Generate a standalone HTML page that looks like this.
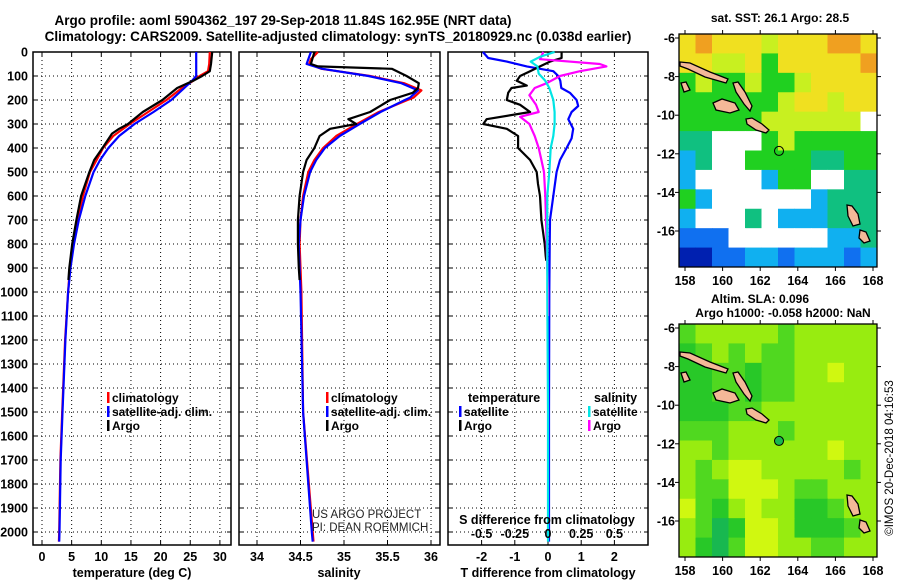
<!DOCTYPE html>
<html><head><meta charset="utf-8"><style>
html,body{margin:0;padding:0;background:#fff;width:900px;height:580px;overflow:hidden}
svg{display:block;font-family:"Liberation Sans",Arial,sans-serif;font-weight:bold}
</style></head><body>
<svg id="c" width="900" height="580" viewBox="0 0 900 580">
<text x="283" y="25" font-size="13.5" text-anchor="middle">Argo profile: aoml 5904362_197 29-Sep-2018 11.84S 162.95E (NRT data)</text>
<text x="338" y="41" font-size="13.5" text-anchor="middle">Climatology: CARS2009. Satellite-adjusted climatology: synTS_20180929.nc (0.038d earlier)</text>
</svg>
<script>
// ---------- data ----------
const tDepth   = [0,50,80,100,120,150,200,250,300,350,400,450,500,600,700,800,900,1000,1200,1500,1700,2000,2040];
const tClim    = [28.3,28.2,28.0,26.6,25.5,23.6,21.0,17.9,14.8,12.0,10.3,9.2,8.1,6.9,6.0,5.3,4.7,4.4,3.9,3.4,3.1,2.9,2.85];
const tSat     = [26.0,26.0,26.0,26.0,25.3,24.0,21.8,18.8,15.6,13.0,11.2,9.8,8.7,7.3,6.2,5.4,4.8,4.4,3.95,3.45,3.15,2.95,2.9];
const aDepth   = [0,50,80,100,120,150,200,250,300,320,340,400,450,500,600,700,800,900,950];
const tArgo    = [28.7,28.5,28.3,27.0,25.5,22.8,20.3,17.0,14.5,13.0,11.8,10.2,8.8,8.0,6.6,5.8,5.1,4.6,4.45];
const sDepth   = [0,30,50,70,100,130,160,190,200,250,300,350,400,450,500,600,700,800,900,1000,1500,2000,2040];
const sClim    = [34.70,34.62,34.60,34.74,35.30,35.69,35.89,35.80,35.73,35.40,35.15,34.91,34.76,34.66,34.59,34.53,34.50,34.49,34.50,34.51,34.53,34.64,34.65];
const sSat     = [34.62,34.59,34.57,34.75,35.28,35.66,35.85,35.76,35.70,35.42,35.18,34.95,34.78,34.68,34.61,34.54,34.50,34.48,34.49,34.50,34.53,34.63,34.64];
const saDepth  = [0,50,60,70,100,130,150,170,200,250,280,300,320,350,400,450,500,600,700,800,900,950];
const sArgo    = [34.66,34.62,34.70,35.55,35.72,35.86,35.85,35.79,35.53,35.30,35.05,35.14,34.84,34.72,34.66,34.57,34.53,34.49,34.47,34.47,34.48,34.49];
const dtDepth  = [0,25,40,60,80,100,120,150,170,200,225,250,280,320,360,400,450,500,600,700,800,1000,1500,2040];
const dtSat    = [-1.96,-1.8,-1.24,-0.64,0.16,0.31,0.37,0.40,0.66,0.86,0.91,0.71,0.61,0.76,0.71,0.56,0.36,0.26,0.16,0.06,0.05,0.04,0.03,0.03];
const daDepth  = [0,25,40,60,80,100,120,140,150,170,200,220,250,280,300,320,350,400,450,500,550,600,700,800,850,870];
const dtArgo   = [0.41,0.41,0.06,-0.24,-0.54,-0.84,-0.94,-0.64,-1.1,-1.2,-1.24,-0.84,-0.54,-1.85,-1.95,-1.24,-0.9,-0.9,-0.54,-0.34,-0.3,-0.24,-0.2,-0.1,-0.07,-0.05];
const dsDepth  = [0,20,40,60,90,120,150,200,250,300,350,400,500,600,1000,1500,2040];
const dsSat    = [0.05,-0.06,-0.13,-0.08,-0.07,-0.02,0.01,0.04,0.05,0.05,0.04,0.02,0.01,-0.005,-0.005,0,0];
const dsaDepth = [0,30,50,60,70,80,100,130,150,180,220,250,270,300,350,400,450,500,600,800,1000,1100];
const dsArgo   = [-0.035,-0.06,0.39,0.44,0.34,0.24,0.09,-0.01,-0.1,-0.14,-0.09,-0.07,-0.21,-0.14,-0.1,-0.07,-0.05,-0.03,-0.02,-0.01,0.0,0.0];
const depthTicks = [0,100,200,300,400,500,600,700,800,900,1000,1100,1200,1300,1400,1500,1600,1700,1800,1900,2000];
const tTicks = [0,5,10,15,20,25,30];
const sTicks = [34,34.5,35,35.5,36];
const sTickLabels = ['34','34.5','35','35.5','36'];
const dTTicks = [-2,-1,0,1,2];
const dSTicks = [-0.5,-0.25,0,0.25,0.5];
const dSTickLabels = ['-0.5','-0.25','0','0.25','0.5'];

const NS='http://www.w3.org/2000/svg';
const svg=document.getElementById('c');
function el(tag,attrs,parent){const e=document.createElementNS(NS,tag);for(const k in attrs)e.setAttribute(k,attrs[k]);(parent||svg).appendChild(e);return e;}
function txt(x,y,s,size,anchor,parent){const e=el('text',{x:x,y:y,'font-size':size,'text-anchor':anchor||'start'},parent);e.textContent=s;return e;}

const TOP=52,BOT=545;
const yD=d=>TOP+d*0.24;
const panels=[
 {name:'temperature-panel',x0:33,x1:231,fx:v=>42+v*5.93},
 {name:'salinity-panel',x0:239,x1:440,fx:v=>257+(v-34)*87},
 {name:'difference-panel',x0:448,x1:648,fx:v=>548+v*33.2}
];
const fS=v=>548+v*132.8;

panels.forEach((p,i)=>{
 const g=el('g',{});
 
 
 depthTicks.forEach(d=>{
  if(d===0)return;
  const l=el('line',{x1:p.x0,x2:p.x1,y1:yD(d),y2:yD(d),stroke:'#000','stroke-width':1,'stroke-dasharray':'1,3'},g);
  
  
  el('line',{x1:p.x0,x2:p.x0+4,y1:yD(d),y2:yD(d),stroke:'#000'},g);
  el('line',{x1:p.x1-4,x2:p.x1,y1:yD(d),y2:yD(d),stroke:'#000'},g);
 });
 const vt = i===0?tTicks:(i===1?sTicks:dTTicks);
 vt.forEach((v,k)=>{
  const x=p.fx(v);
  el('line',{x1:x,x2:x,y1:TOP,y2:BOT,stroke:'#000','stroke-width':1,'stroke-dasharray':'1,3'},g);
  el('line',{x1:x,x2:x,y1:BOT-4,y2:BOT,stroke:'#000'},g);
  el('line',{x1:x,x2:x,y1:TOP,y2:TOP+4,stroke:'#000'},g);
  const lab = i===1?sTickLabels[k]:String(v);
  const t=txt(x,561,lab,12.5,'middle',g);
  
  
 });
 const fr=el('rect',{x:p.x0,y:TOP,width:p.x1-p.x0,height:BOT-TOP,fill:'none',stroke:'#000','stroke-width':1.5},g);
 
 
});
depthTicks.forEach(d=>{
 const t=txt(28,yD(d)+4.5,String(d),12.5,'end');
 
 
});
const at1=txt(132,577,'temperature (deg C)',12.5,'middle');


const at2=txt(339,577,'salinity',12.5,'middle');


const at3=txt(548,577,'T difference from climatology',12.5,'middle');



function line(depths,vals,fx,color,name,w){
 const pts=depths.map((d,i)=>fx(vals[i]).toFixed(1)+','+yD(d).toFixed(1)).join(' ');
 const pl=el('polyline',{points:pts,fill:'none',stroke:color,'stroke-width':w||2.2,'stroke-linejoin':'round'});
 
 
}
const P=panels;
line(tDepth,tClim,P[0].fx,'#ff0000','temperature-climatology-line');
line(tDepth,tSat,P[0].fx,'#0000ff','temperature-satellite-line');
line(aDepth,tArgo,P[0].fx,'#000','temperature-argo-line');
line(sDepth,sClim,P[1].fx,'#ff0000','salinity-climatology-line');
line(sDepth,sSat,P[1].fx,'#0000ff','salinity-satellite-line');
line(saDepth,sArgo,P[1].fx,'#000','salinity-argo-line');
line(dtDepth,dtSat,P[2].fx,'#0000ff','t-diff-satellite-line');
line(daDepth,dtArgo,P[2].fx,'#000','t-diff-argo-line');
line(dsaDepth,dsArgo,fS,'#ff00ff','s-diff-argo-line');
line(dsDepth,dsSat,fS,'#00e5e5','s-diff-satellite-line');

function leg(x,y,color,label,name){
 const g=el('g',{});
 
 
 el('rect',{x:x,y:y-10,width:2.5,height:11,fill:color},g);
 txt(x+5,y,label,12,'start',g);
}
leg(107,402,'#ff0000','climatology','legend-climatology-t');
leg(107,416,'#0000ff','satellite-adj. clim.','legend-satellite-t');
leg(107,430,'#000','Argo','legend-argo-t');
leg(326,402,'#ff0000','climatology','legend-climatology-s');
leg(326,416,'#0000ff','satellite-adj. clim.','legend-satellite-s');
leg(326,430,'#000','Argo','legend-argo-s');
txt(468,402,'temperature',12.5,'start');
leg(459,416,'#0000ff','satellite','legend-t-satellite');
leg(459,430,'#000','Argo','legend-t-argo');
txt(594,402,'salinity',12.5,'start');
leg(588,416,'#00e5e5','satellite','legend-s-satellite');
leg(588,430,'#ff00ff','Argo','legend-s-argo');
const c1=txt(312,518,'US ARGO PROJECT',11.5,'start');c1.setAttribute('font-weight','normal');c1.setAttribute('fill','#222');

const c2=txt(312,531,'PI: DEAN ROEMMICH',11.5,'start');c2.setAttribute('font-weight','normal');c2.setAttribute('fill','#222');

const st=txt(547,524,'S difference from climatology',12.5,'middle');

dSTicks.forEach((v,k)=>{const t=txt(fS(v),538,dSTickLabels[k],12.5,'middle');
 });

// ---------- maps ----------
const colT={O:'#f0a020',Y:'#f0e020',L:'#c8f020',G:'#20d020',T:'#10c080',C:'#10b0f0',B:'#1070f0',D:'#0020b0',W:'#ffffff'};
const sstGrid=[
'YOYYYLYYYOOY','YYLLYGYYYYYO','GLGGLGGLYYYY','GGGGGGLYYLYY','GGGGGLLLLLLW','TTWWWGLGGGGG',
'CTWWGGGGTTGG','CWWWWCGGWWTT','GCWWWWWWCTTT','CWWWTWCCCTTT','BBBWWWWWWCCT','DDBBCCBCCCBC'];
const colS={M:'#50d820',G:'#28c828',L:'#98ec10',Y:'#d0f810',T:'#18b850'};
const slaGrid=[
'MLLLLLMLLLLL','GMLMLMMLLLLL','GGMMGMMLLYLL','GGMMGMMLLLLL','GGGMMLLLLLLL','MMMLLLMLLLLL',
'LLMLLLLLLYLL','LMLYYLLLLLML','LMMYYYLMMLLL','YMGLYLLGGMLL','LMTGYYLGGGML','LGTMYYLLMMLL'];
const lonTicks=[158,160,162,164,166,168];
const latTicks=[-6,-8,-10,-12,-14,-16];
function drawMap(oy,grid,cols,name,argoFill){
 const g=el('g',{});
 
 
 const x0=679,x1=877,y0=34+oy,y1=267+oy;
 const lx=lon=>685+(lon-158)*18.8, ly=lat=>38+oy+(-6-lat)*19.3;
 const cw=(x1-x0)/12,ch=(y1-y0)/12;
 grid.forEach((row,r)=>{for(let c=0;c<12;c++){el('rect',{x:x0+c*cw,y:y0+r*ch,width:cw+0.5,height:ch+0.5,fill:cols[row[c]]},g);}});
 const isl=[
  '680,62 690,63 710,72 728,79 726,83 705,77 688,69 680,66',
  '733,83 738,82 745,92 752,106 750,111 744,104 736,92',
  '713,103 722,99 735,103 739,110 730,113 716,110',
  '746,119 752,118 762,124 769,130 766,133 756,130 747,124',
  '681,83 686,82 690,90 684,92',
  '847,205 852,206 858,214 860,224 853,226 848,216',
  '860,230 866,232 870,241 864,243 859,238'];
 isl.forEach(pts=>{
  const pp=pts.split(' ').map(s=>{const a=s.split(',');return a[0]+','+(+a[1]+oy);}).join(' ');
  el('polygon',{points:pp,fill:'#f4b898',stroke:'#000','stroke-width':1.3},g);
 });
 const am=el('circle',{cx:lx(163),cy:ly(-11.85),r:4.5,fill:argoFill,stroke:'#000','stroke-width':1},g);
 
 
 el('rect',{x:x0,y:y0,width:x1-x0,height:y1-y0,fill:'none',stroke:'#000','stroke-width':1.3},g);
 lonTicks.forEach(v=>{const x=lx(v);el('line',{x1:x,x2:x,y1:y1,y2:y1+4,stroke:'#000'},g);el('line',{x1:x,x2:x,y1:y0-4,y2:y0,stroke:'#000'},g);
  txt(x,y1+18,String(v),12.5,'middle',g);});
 latTicks.forEach(v=>{const y=ly(v);el('line',{x1:x0-4,x2:x0,y1:y,y2:y,stroke:'#000'},g);el('line',{x1:x1,x2:x1+4,y1:y,y2:y,stroke:'#000'},g);
  txt(675,y+4.5,String(v),12.5,'end',g);});
}
drawMap(0,sstGrid,colT,'sst-map','none');
drawMap(290,slaGrid,colS,'sla-map','#18b850');
const m1=txt(780,22,'sat. SST: 26.1 Argo: 28.5',12,'middle');
const m2=txt(760,303,'Altim. SLA: 0.096',12,'middle');
const m3=txt(783,317,'Argo h1000: -0.058 h2000: NaN',12,'middle');
const cp=txt(0,0,'©IMOS 20-Dec-2018 04:16:53',11.5,'middle');
cp.setAttribute('font-weight','normal');
cp.setAttribute('transform','translate(893,458) rotate(-90)');

</script>
</body></html>
